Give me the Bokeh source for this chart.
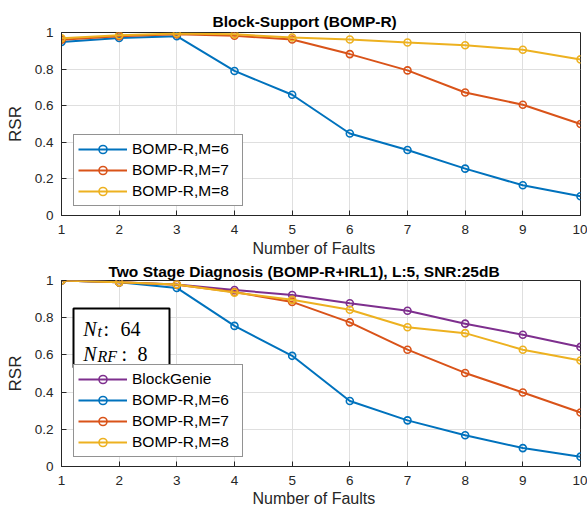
from bokeh.plotting import figure
from bokeh.layouts import column
from bokeh.models import Range1d, FixedTicker, Legend, LegendItem, Label, BoxAnnotation, Title
from bokeh.embed import file_html
from bokeh.resources import INLINE

# ---------------- data ----------------
faults = [1, 2, 3, 4, 5, 6, 7, 8, 9, 10]
x_ticks = [1, 2, 3, 4, 5, 6, 7, 8, 9, 10]
y_ticks = [0, 0.2, 0.4, 0.6, 0.8, 1]
y_tick_labels = ["0", "0.2", "0.4", "0.6", "0.8", "1"]

top_title = "Block-Support (BOMP-R)"
top_m6 = [0.948, 0.970, 0.980, 0.790, 0.660, 0.448, 0.358, 0.256, 0.165, 0.105]
top_m7 = [0.960, 0.980, 0.990, 0.982, 0.962, 0.882, 0.793, 0.672, 0.605, 0.500]
top_m8 = [0.968, 0.985, 0.995, 0.990, 0.973, 0.962, 0.945, 0.930, 0.906, 0.853]
top_labels = ["BOMP-R,M=6", "BOMP-R,M=7", "BOMP-R,M=8"]

bot_title = "Two Stage Diagnosis (BOMP-R+IRL1), L:5, SNR:25dB"
bot_bg = [1.000, 0.990, 0.979, 0.949, 0.922, 0.878, 0.837, 0.768, 0.708, 0.643]
bot_m6 = [1.000, 0.990, 0.960, 0.756, 0.595, 0.352, 0.248, 0.168, 0.099, 0.053]
bot_m7 = [1.000, 0.990, 0.977, 0.938, 0.885, 0.775, 0.628, 0.503, 0.398, 0.290]
bot_m8 = [1.000, 0.990, 0.979, 0.935, 0.896, 0.843, 0.749, 0.717, 0.628, 0.570]
bot_labels = ["BlockGenie", "BOMP-R,M=6", "BOMP-R,M=7", "BOMP-R,M=8"]

x_label = "Number of Faults"
y_label = "RSR"

# ---------------- style ----------------
BLUE, ORANGE, YELLOW, PURPLE = "#0072BD", "#D95319", "#EDB120", "#7E2F8E"
AX = "#262626"
GRID = "#dfdfdf"
SANS = "Liberation Sans"
SERIF = "Liberation Serif"


def make_fig(height, border_top, border_bottom, title, title_offset, title_standoff, label_standoff):
    p = figure(width=587, height=height, output_backend="svg", toolbar_location=None,
               x_range=Range1d(1, 10), y_range=Range1d(0, 1),
               min_border_left=61, min_border_right=7,
               min_border_top=border_top, min_border_bottom=border_bottom)
    p.title.text = title
    p.title.align = "left"
    p.title.offset = title_offset
    p.title.standoff = title_standoff
    p.title.text_font = SANS
    p.title.text_font_size = "15.5px"
    p.title.text_font_style = "bold"
    p.title.text_color = "black"
    p.outline_line_color = AX
    p.outline_line_width = 1
    p.background_fill_color = "white"
    p.border_fill_color = "white"
    p.xaxis.ticker = FixedTicker(ticks=x_ticks)
    p.yaxis.ticker = FixedTicker(ticks=y_ticks)
    p.yaxis.major_label_overrides = {t: l for t, l in zip(y_ticks, y_tick_labels)}
    for ax in (p.xaxis, p.yaxis):
        ax.axis_line_color = AX
        ax.major_tick_line_color = AX
        ax.major_tick_in = 5
        ax.major_tick_out = 0
        ax.minor_tick_line_color = None
        ax.major_label_text_font = SANS
        ax.major_label_text_font_size = "13.5px"
        ax.major_label_text_color = AX
        ax.axis_label_text_font = SANS
        ax.axis_label_text_font_style = "normal"
        ax.axis_label_text_color = AX
    p.xaxis.major_label_standoff = 9
    xt = Title(text=x_label, align="left", offset=191, standoff=label_standoff,
               text_font=SANS, text_font_size="16px", text_font_style="normal",
               text_color=AX)
    p.add_layout(xt, "below")
    p.yaxis.major_label_standoff = 8
    p.yaxis.axis_label = y_label
    p.yaxis.axis_label_text_font_size = "17px"
    p.yaxis.axis_label_standoff = 7
    p.xgrid.ticker = FixedTicker(ticks=x_ticks)
    p.ygrid.ticker = FixedTicker(ticks=y_ticks)
    p.grid.grid_line_color = GRID
    p.grid.grid_line_width = 1
    return p


def add_series(p, ys, color):
    l = p.line(faults, ys, line_color=color, line_width=2)
    s = p.scatter(faults, ys, marker="circle", size=7, line_color=color,
                  line_width=1.6, fill_color=None)
    return [l, s]


def add_legend(p, items):
    leg = Legend(items=items, location=(12, 9))
    leg.border_line_color = AX
    leg.border_line_width = 1
    leg.background_fill_color = "white"
    leg.background_fill_alpha = 1
    leg.padding = 4
    leg.spacing = 1
    leg.margin = 0
    leg.label_text_font = SANS
    leg.label_text_font_size = "15.5px"
    leg.label_text_color = "black"
    leg.glyph_width = 49
    leg.glyph_height = 20
    leg.label_height = 20
    leg.label_width = 106
    leg.label_standoff = 5
    p.add_layout(leg)


def add_text(p, x, y, text, size, font=SERIF, style="normal"):
    p.add_layout(Label(x=x, y=y, x_units="screen", y_units="screen", text=text,
                       text_font=font, text_font_size=size, text_font_style=style,
                       text_align="left", text_baseline="alphabetic", text_color="black"))


# ---------------- top panel ----------------
p1 = make_fig(259, 32, 44, top_title, 151, 5, 2)
r6 = add_series(p1, top_m6, BLUE)
r7 = add_series(p1, top_m7, ORANGE)
r8 = add_series(p1, top_m8, YELLOW)
add_legend(p1, [LegendItem(label=top_labels[0], renderers=r6),
                LegendItem(label=top_labels[1], renderers=r7),
                LegendItem(label=top_labels[2], renderers=r8)])

# ---------------- bottom panel ----------------
p2 = make_fig(249, 19, 42, bot_title, 47, 2, 0)
rb = add_series(p2, bot_bg, PURPLE)
q6 = add_series(p2, bot_m6, BLUE)
q7 = add_series(p2, bot_m7, ORANGE)
q8 = add_series(p2, bot_m8, YELLOW)
add_legend(p2, [LegendItem(label=bot_labels[0], renderers=rb),
                LegendItem(label=bot_labels[1], renderers=q6),
                LegendItem(label=bot_labels[2], renderers=q7),
                LegendItem(label=bot_labels[3], renderers=q8)])

# parameter box
p2.add_layout(BoxAnnotation(left=12, right=108, bottom=99, top=158,
                            left_units="screen", right_units="screen",
                            bottom_units="screen", top_units="screen",
                            fill_color="white", fill_alpha=1,
                            line_color="black", line_width=2, line_alpha=1))
add_text(p2, 21.7, 137.7, "N", "20px", style="italic")
add_text(p2, 36, 135.5, "t", "16px", style="italic")
add_text(p2, 42, 137.7, ":", "20px")
add_text(p2, 59, 137.7, "64", "20px")
add_text(p2, 21.7, 112.7, "N", "20px", style="italic")
add_text(p2, 36, 110.5, "RF", "16px", style="italic")
add_text(p2, 60, 112.7, ":", "20px")
add_text(p2, 76, 112.7, "8", "20px")

layout = column(p1, p2, spacing=0)
open("out.html", "w").write(file_html(layout, INLINE))
